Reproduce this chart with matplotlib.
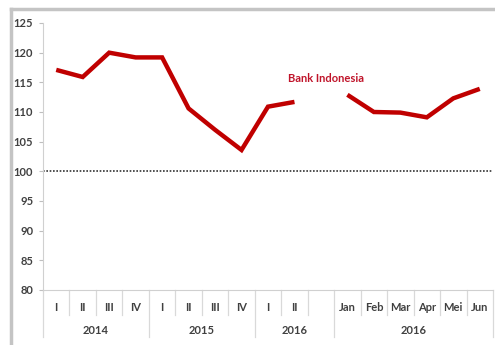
import numpy as np
import matplotlib.pyplot as plt
from matplotlib.lines import Line2D
import matplotlib.transforms as mtransforms

plt.rcParams['font.family'] = ['Lato', 'DejaVu Sans']

# data
cat_labels = ['I', 'II', 'III', 'IV', 'I', 'II', 'III', 'IV', 'I', 'II', '',
              'Jan', 'Feb', 'Mar', 'Apr', 'Mei', 'Jun']
values = [117.1, 115.9, 120.0, 119.2, 119.2, 110.6, 107.0, 103.6, 110.9, 111.7, np.nan,
          112.9, 110.0, 109.9, 109.1, 112.3, 113.9]
groups = ['2014', '2015', '2016', '2016']
group_bounds = [(0, 4), (4, 8), (8, 11), (11, 17)]
yticks = [80, 85, 90, 95, 100, 105, 110, 115, 120, 125]

fig = plt.figure(figsize=(4.95, 3.45), dpi=100)
# frame of the pasted picture: only left and top edges visible
fx, fy = 11 / 495, 1 - 9 / 345
fig.lines.append(Line2D([fx, fx], [0, fy], transform=fig.transFigure,
                        color='#c4c4c4', linewidth=2.5))
fig.lines.append(Line2D([fx, 1], [fy, fy], transform=fig.transFigure,
                        color='#c4c4c4', linewidth=2.5))

ax = fig.add_axes([43 / 495, 1 - 290 / 345, 450 / 495, 267 / 345])

x = np.arange(len(values))
ax.plot(x, values, color='#c00000', linewidth=3.2, solid_capstyle='butt', solid_joinstyle='miter')
ax.axhline(100, color='#333333', linestyle=(0, (1, 1)), linewidth=1.2)

ax.text(10.2, 115.6, 'Bank Indonesia', color='#c0142a', fontsize=8,
        fontweight='bold', ha='center', va='center')

ax.set_xlim(-0.5, len(values) - 0.5)
ax.set_ylim(80, 125)
ax.set_yticks(yticks)
ax.tick_params(axis='y', length=3, width=0.8, color='#bfbfbf', labelsize=8,
               labelcolor='#404040', pad=4)
for lab in ax.get_yticklabels():
    lab.set_fontweight('bold')
ax.set_xticks([])
for s in ['top', 'right']:
    ax.spines[s].set_visible(False)
ax.spines['left'].set_color('#d0d0d0')
ax.spines['bottom'].set_color('#d0d0d0')

# category axis drawn below
trans = mtransforms.blended_transform_factory(ax.transData, ax.transAxes)
group_edges = set()
for a, b in group_bounds:
    group_edges.add(a)
    group_edges.add(b)
for i in range(len(values) + 1):
    edge = i - 0.5
    low = -0.176 if i in group_edges else -0.094
    ax.plot([edge, edge], [0, low], transform=trans, clip_on=False,
            color='#d9d9d9', linewidth=0.9)
for i, lab in enumerate(cat_labels):
    ax.text(i, -0.064, lab, transform=trans, ha='center', va='center',
            fontsize=8, fontweight='bold', color='#404040')
for g, (a, b) in zip(groups, group_bounds):
    ax.text((a + b - 1) / 2, -0.15, g, transform=trans, ha='center', va='center',
            fontsize=8, fontweight='bold', color='#404040')

fig.savefig('out.png', dpi=100)
